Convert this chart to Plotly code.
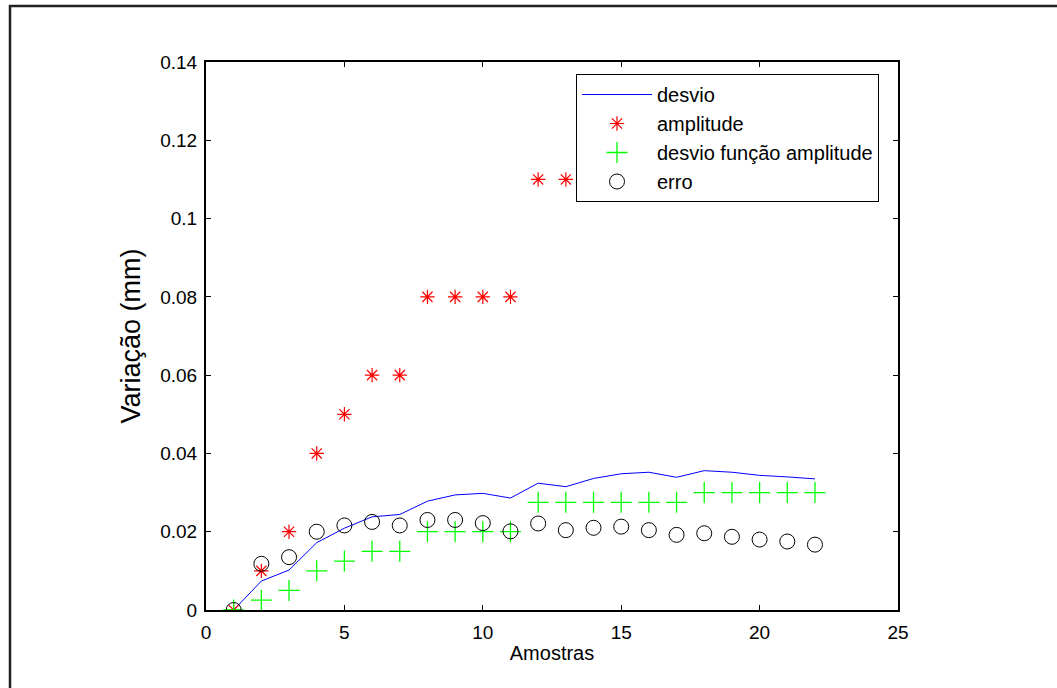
import plotly.graph_objects as go

# Sample index (1..22)
amostras = list(range(1, 23))

# Standard deviation of the measurements (mm)
desvio = [0.0, 0.0074, 0.0102, 0.0172, 0.0209, 0.0238, 0.0244, 0.0278, 0.0294, 0.0298,
          0.0286, 0.0324, 0.0315, 0.0336, 0.0348, 0.0352, 0.0339, 0.0356, 0.0352, 0.0344,
          0.0340, 0.0335]

# Amplitude (mm)
amplitude = [0.0, 0.01, 0.02, 0.04, 0.05, 0.06, 0.06, 0.08, 0.08, 0.08, 0.08,
             0.11, 0.11, 0.11, 0.11, 0.11, 0.11, 0.12, 0.12, 0.12, 0.12, 0.12]

# Deviation estimated from the amplitude (mm)
desvio_amp = [0.0, 0.0025, 0.005, 0.01, 0.0125, 0.015, 0.015, 0.02, 0.02, 0.02, 0.02,
              0.0275, 0.0275, 0.0275, 0.0275, 0.0275, 0.0275, 0.03, 0.03, 0.03, 0.03, 0.03]

# Error (mm)
erro = [0.0, 0.0118, 0.0135, 0.0200, 0.0216, 0.0225, 0.0216, 0.0230, 0.0230, 0.0222,
        0.0201, 0.0221, 0.0204, 0.0210, 0.0213, 0.0204, 0.0192, 0.0196, 0.0187, 0.0180,
        0.0175, 0.0167]

x_ticks = [0, 5, 10, 15, 20, 25]
y_ticks = [0, 0.02, 0.04, 0.06, 0.08, 0.1, 0.12, 0.14]
y_tick_text = ["0", "0.02", "0.04", "0.06", "0.08", "0.1", "0.12", "0.14"]

FONT = "Liberation Sans, Arial, sans-serif"

fig = go.Figure()
fig.add_trace(go.Scatter(x=amostras, y=desvio, mode="lines", name="desvio",
                         line=dict(color="#0000ff", width=1), legendgroup="a"))
fig.add_trace(go.Scatter(x=amostras, y=amplitude, mode="markers", name="amplitude",
                         marker=dict(symbol="asterisk-open", size=12, color="#ff0000",
                                     line=dict(color="#ff0000", width=1.2)), legendgroup="b"))
fig.add_trace(go.Scatter(x=amostras, y=desvio_amp, mode="markers", name="desvio função amplitude",
                         marker=dict(symbol="cross-thin-open", size=15, color="#00ff00",
                                     line=dict(color="#00ff00", width=1.3)), legendgroup="c"))
fig.add_trace(go.Scatter(x=amostras, y=erro, mode="markers", name="erro",
                         marker=dict(symbol="circle-open", size=15, color="#000000",
                                     line=dict(color="#000000", width=1)), legendgroup="d"))

# Plot area in pixels: x 206..898, y 62..610
L, R, T, B = 206, 898, 62, 610
W, H = 1057, 688
pw, ph = R - L, B - T

def px_x(p):
    return (p - L) / pw

def px_y(p):
    return (B - p) / ph

# Outer page frame (left and top edges)
fig.add_shape(type="path", xref="paper", yref="paper",
              path=f"M {px_x(10)} {px_y(700)} L {px_x(10)} {px_y(6)} L {px_x(1070)} {px_y(6)}",
              line=dict(color="#222222", width=2.5))

axis_common = dict(showline=True, linecolor="#000000", linewidth=2, mirror="ticks",
                   ticks="inside", ticklen=5, tickwidth=1, tickcolor="#000000",
                   showgrid=False, zeroline=False,
                   tickfont=dict(family=FONT, size=19, color="#000000"))

fig.update_xaxes(range=[0, 25], tickvals=x_ticks, ticktext=[str(v) for v in x_ticks],
                 title=dict(text="Amostras", font=dict(family=FONT, size=20, color="#000000"),
                            standoff=4),
                 ticklabelstandoff=4, **axis_common)
fig.update_yaxes(range=[0, 0.14], tickvals=y_ticks, ticktext=y_tick_text,
                 title=dict(text="Variação (mm)", font=dict(family=FONT, size=27, color="#000000"),
                            standoff=12),
                 ticklabelstandoff=3, **axis_common)

fig.update_layout(
    width=W, height=H,
    margin=dict(l=L, r=W - R, t=T, b=H - B, autoexpand=False),
    paper_bgcolor="#ffffff", plot_bgcolor="#ffffff",
    font=dict(family=FONT, color="#000000"),
    showlegend=True,
    legend=dict(x=px_x(576), y=px_y(74), xanchor="left", yanchor="top",
                bgcolor="#ffffff", bordercolor="#000000", borderwidth=1,
                font=dict(family=FONT, size=20, color="#000000"),
                itemwidth=70, tracegroupgap=1, traceorder="normal"),
)

fig.write_html("out.html")
